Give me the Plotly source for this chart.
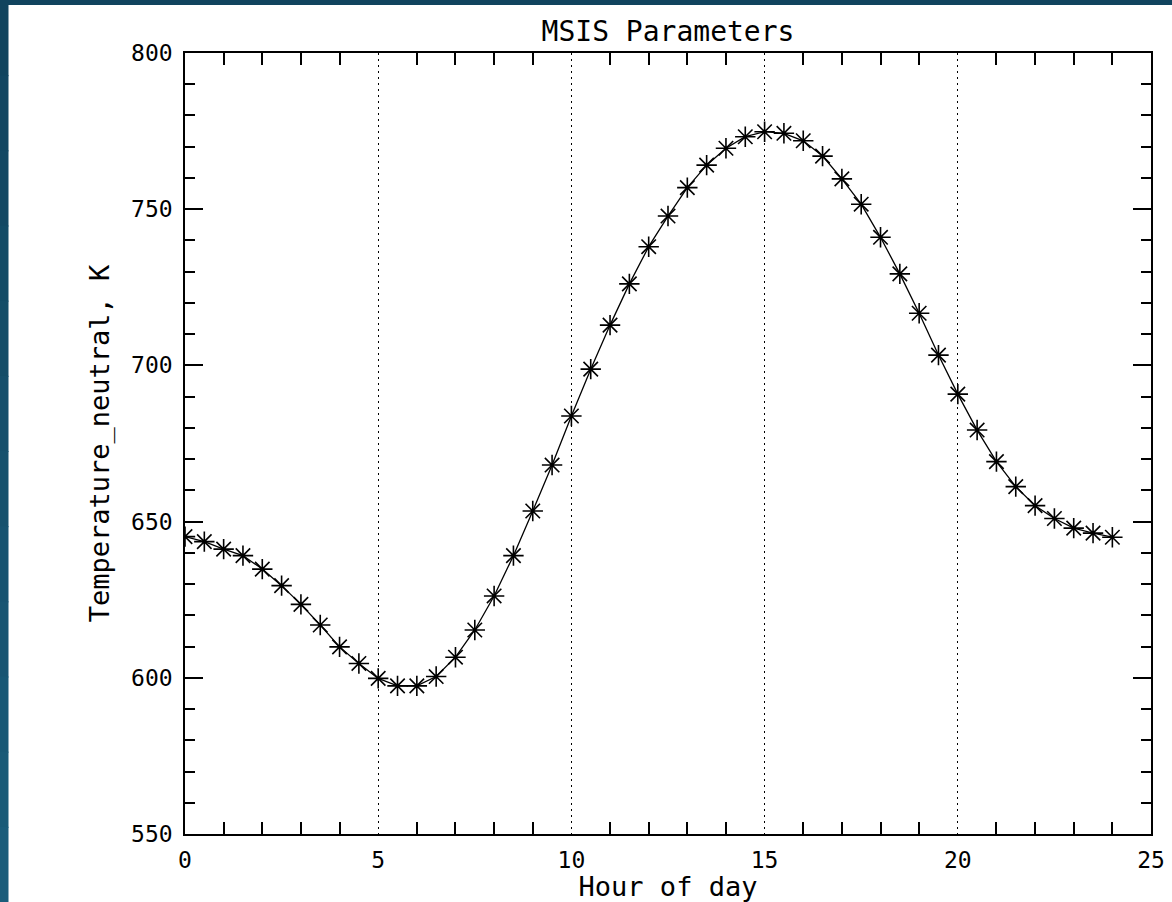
import plotly.graph_objects as go

# Data
hours = [0, 0.5, 1, 1.5, 2, 2.5, 3, 3.5, 4, 4.5, 5, 5.5, 6, 6.5, 7, 7.5, 8, 8.5, 9, 9.5,
         10, 10.5, 11, 11.5, 12, 12.5, 13, 13.5, 14, 14.5, 15, 15.5, 16, 16.5, 17, 17.5,
         18, 18.5, 19, 19.5, 20, 20.5, 21, 21.5, 22, 22.5, 23, 23.5, 24]
temperature = [645.2, 643.6, 641.2, 639.1, 634.8, 629.5, 623.5, 616.9, 609.9, 604.6,
               599.8, 597.4, 597.4, 600.4, 606.6, 615.3, 626.2, 639.1, 653.4, 668.1,
               683.8, 698.8, 712.9, 726.1, 738.0, 747.8, 756.9, 764.1, 769.5, 773.2,
               774.8, 774.3, 771.9, 767.0, 759.7, 751.6, 741.0, 729.3, 716.7, 703.3,
               690.8, 679.3, 669.2, 661.2, 655.1, 651.0, 647.9, 646.3, 645.0]

title_text = "MSIS Parameters"
x_title = "Hour of day"
y_title = "Temperature_neutral, K"
x_ticks = [0, 5, 10, 15, 20, 25]
y_ticks = [550, 600, 650, 700, 750, 800]

W, H = 1172, 902
L, R, T, B = 185, 21, 53, 68
pw, ph = W - L - R, H - T - B

FONT = "DejaVu Sans Mono"

fig = go.Figure()
fig.add_trace(go.Scatter(
    x=hours, y=temperature, mode="lines+markers",
    line=dict(color="black", width=1.3),
    marker=dict(symbol="asterisk-open", size=17, color="black",
                line=dict(color="black", width=1.6)),
    showlegend=False, hoverinfo="x+y",
))

# background: dark blue frame strips (approximate gradient with bands)
def px_to_paper_x(px):
    return (px - L) / pw

def px_to_paper_y(py):
    return (H - B - py) / ph

shapes = []
shapes.append(dict(type="rect", xref="paper", yref="paper", layer="below",
                   x0=px_to_paper_x(0), x1=px_to_paper_x(W),
                   y0=px_to_paper_y(5), y1=px_to_paper_y(0),
                   line=dict(width=0), fillcolor="#11445e"))
nb = 12
c0 = (0x11, 0x44, 0x5e)
c1 = (0x1a, 0x5c, 0x7a)
for i in range(nb):
    t = i / (nb - 1)
    col = "rgb(%d,%d,%d)" % tuple(int(round(a + (b - a) * t)) for a, b in zip(c0, c1))
    shapes.append(dict(type="rect", xref="paper", yref="paper", layer="below",
                       x0=px_to_paper_x(0), x1=px_to_paper_x(8.5),
                       y0=px_to_paper_y(H * (i + 1) / nb + 1), y1=px_to_paper_y(H * i / nb),
                       line=dict(width=0), fillcolor=col))

fig.update_layout(
    template="none",
    width=W, height=H, autosize=False,
    margin=dict(l=L, r=R, t=T, b=B, pad=0, autoexpand=False),
    paper_bgcolor="white", plot_bgcolor="white",
    font=dict(family=FONT, color="black"),
    shapes=shapes,
    title=dict(text=title_text, x=(L + pw / 2) / W, xanchor="center",
               y=1 - 31 / H, yanchor="middle", yref="container",
               font=dict(family=FONT, size=28, color="black")),
)

fig.update_xaxes(
    range=[0, 25], tickvals=x_ticks, ticktext=[str(v) for v in x_ticks],
    automargin=False,
    showline=True, linecolor="black", linewidth=1.5, mirror="allticks",
    ticks="inside", ticklen=0, tickcolor="black", tickwidth=1.5,
    showgrid=True, gridcolor="black", gridwidth=1, griddash="2px,4px",
    zeroline=False,
    minor=dict(tickvals=[v for v in range(1, 25) if v % 5 != 0], ticks="inside",
               ticklen=12, tickcolor="black", tickwidth=1.5, showgrid=False),
    tickfont=dict(family=FONT, size=23, color="black"),
    ticklabelstandoff=5,
    title=dict(text=x_title, font=dict(family=FONT, size=27, color="black"), standoff=6),
)
fig.update_yaxes(
    range=[550, 800], tickvals=y_ticks, ticktext=[str(v) for v in y_ticks],
    automargin=False,
    showline=True, linecolor="black", linewidth=1.5, mirror="allticks",
    ticks="inside", ticklen=18, tickcolor="black", tickwidth=1.5,
    showgrid=False, zeroline=False,
    minor=dict(tickvals=[v for v in range(560, 800, 10) if v % 50 != 0], ticks="inside",
               ticklen=10, tickcolor="black", tickwidth=1.5, showgrid=False),
    tickfont=dict(family=FONT, size=23, color="black"),
    ticklabelstandoff=6,
    title=dict(text=y_title, font=dict(family=FONT, size=27, color="black"), standoff=14),
)

fig.write_html("out.html")
